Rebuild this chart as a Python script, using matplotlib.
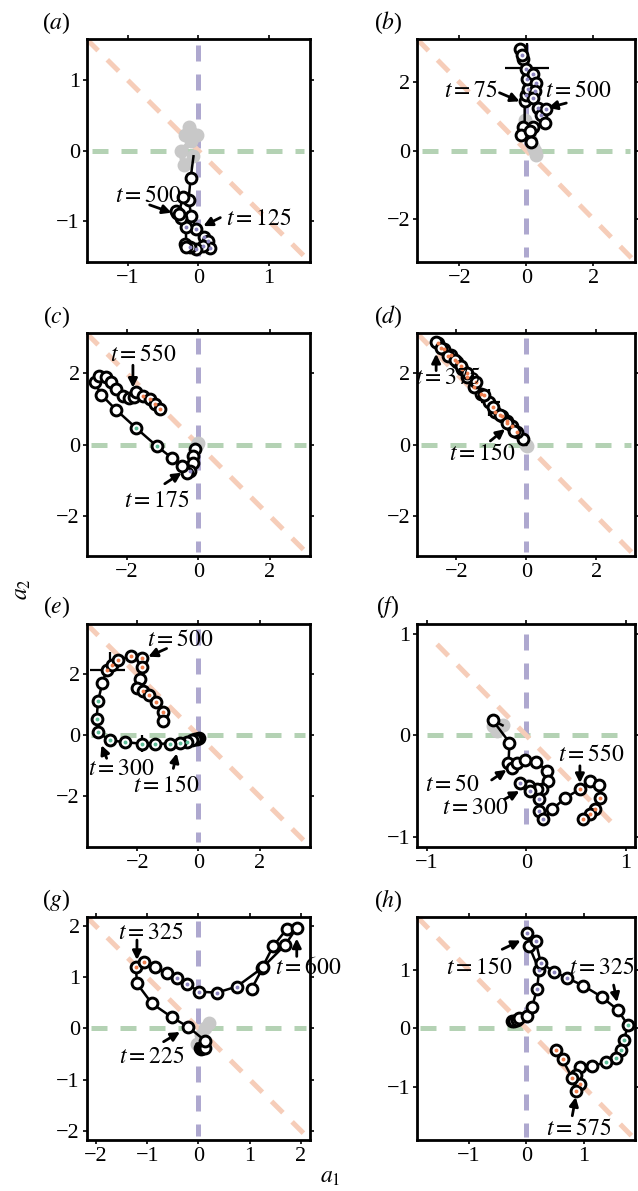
import matplotlib
matplotlib.use('Agg')
import matplotlib.pyplot as plt
import numpy as np

plt.rcParams['font.family'] = ['Liberation Serif', 'DejaVu Serif']
plt.rcParams['mathtext.fontset'] = 'stix'

# ---- data (a1, a2 coordinates) ----
# dot codes: n = none, o = orange, g = green, p = purple
grey_a_x = [-0.12, -0.14, -0.19, -0.02, -0.10, -0.24, -0.21, -0.07]
grey_a_y = [0.28, 0.34, 0.22, 0.22, 0.13, -0.01, -0.20, -0.08]
traj_a_x = [-0.11, -0.14, -0.10, -0.03, 0.08, 0.14, 0.17, 0.07, -0.04, -0.12, -0.19, -0.17, -0.18, -0.25, -0.30, -0.32, -0.28, -0.22]
traj_a_y = [-0.39, -0.70, -0.92, -1.11, -1.22, -1.28, -1.38, -1.35, -1.40, -1.36, -1.33, -1.36, -1.08, -0.95, -0.88, -0.85, -0.90, -0.66]
dots_a = 'nnnpppppppnnpnnnnn'

grey_b_x = [0.30, 0.25, 0.20, 0.10, 0.02, -0.05]
grey_b_y = [-0.13, 0.00, 0.12, 0.35, 0.60, 0.90]
traj_b_x = [-0.05, 0.00, 0.05, 0.02, -0.10, -0.20, -0.12, 0.00, 0.20, 0.30, 0.25, 0.20, 0.35, 0.45, 0.60, 0.55, 0.20, -0.10, -0.15, 0.10, 0.15]
traj_b_y = [1.44, 1.62, 1.80, 2.10, 2.67, 2.96, 2.80, 2.37, 2.23, 1.98, 1.75, 1.54, 1.25, 1.05, 1.22, 0.80, 0.70, 0.70, 0.46, 0.56, 0.26]
dots_b = 'npppnnpppppppppnnnnnn'

grey_c_x = [0.00, -0.05]
grey_c_y = [0.05, 0.00]
traj_c_x = [-0.10, -0.14, -0.16, -0.23, -0.33, -0.47, -0.75, -1.17, -1.74, -2.30, -2.72, -2.90, -2.77, -2.58, -2.44, -2.30, -2.11, -1.95, -1.80, -1.74, -1.55, -1.36, -1.22, -1.08]
traj_c_y = [-0.12, -0.31, -0.50, -0.73, -0.78, -0.59, -0.36, -0.03, 0.47, 0.98, 1.41, 1.76, 1.94, 1.90, 1.76, 1.57, 1.38, 1.30, 1.35, 1.47, 1.38, 1.29, 1.15, 1.00]
dots_c = 'nnnpnnnggnnnnnnnnnnnoooo'

grey_d_x = [0.02, 0.00]
grey_d_y = [-0.02, 0.00]
traj_d_x = [-0.09, -0.28, -0.42, -0.56, -0.70, -0.89, -1.08, -1.31, -1.50, -1.69, -1.83, -1.97, -2.16, -2.35, -2.54, -2.58, -2.45, -2.25, -2.05, -1.88, -1.70, -1.45, -1.20, -0.95, -0.75, -0.55, -0.35]
traj_d_y = [0.16, 0.35, 0.54, 0.68, 0.82, 0.91, 1.19, 1.43, 1.62, 1.90, 2.13, 2.32, 2.51, 2.69, 2.84, 2.88, 2.70, 2.50, 2.38, 2.20, 2.00, 1.75, 1.40, 1.05, 0.85, 0.60, 0.40]
dots_d = 'nooooonoooooooonoooooooooon'

grey_e_x = []
grey_e_y = []
traj_e_x = [0.02, -0.05, -0.12, -0.22, -0.38, -0.60, -0.93, -1.42, -1.86, -2.40, -2.90, -3.28, -3.33, -3.28, -3.14, -3.00, -2.84, -2.62, -2.19, -1.86, -1.83, -1.91, -2.00, -1.80, -1.61, -1.39, -1.15, -1.15]
traj_e_y = [-0.08, -0.11, -0.13, -0.16, -0.22, -0.25, -0.27, -0.27, -0.27, -0.22, -0.16, 0.11, 0.54, 1.13, 1.72, 2.15, 2.31, 2.47, 2.61, 2.53, 2.24, 1.85, 1.56, 1.45, 1.31, 1.10, 0.77, 0.48]
dots_e = 'nnnnggggggggggnoooooonnoooon'

grey_f_x = [-0.34, -0.30, -0.24]
grey_f_y = [0.09, 0.04, 0.10]
traj_f_x = [-0.34, -0.17, -0.18, -0.14, -0.09, -0.01, 0.10, 0.21, 0.22, 0.16, 0.11, 0.03, -0.06, 0.04, 0.13, 0.13, 0.17, 0.26, 0.39, 0.54, 0.64, 0.73, 0.74, 0.69, 0.64, 0.57]
traj_f_y = [0.15, -0.07, -0.27, -0.32, -0.27, -0.24, -0.26, -0.35, -0.45, -0.53, -0.53, -0.50, -0.47, -0.55, -0.63, -0.75, -0.83, -0.73, -0.62, -0.53, -0.45, -0.49, -0.62, -0.73, -0.78, -0.83]
dots_f = 'nnnnnnnnnnnnpppppnnonnoooo'

grey_g_x = [0.20, 0.12, 0.05, -0.03]
grey_g_y = [0.10, 0.00, -0.12, -0.30]
traj_g_x = [0.03, 0.06, 0.09, 0.13, 0.13, -0.20, -0.52, -0.91, -1.20, -1.22, -1.07, -0.85, -0.62, -0.42, -0.23, 0.02, 0.36, 0.75, 1.24, 1.46, 1.72, 1.92, 1.69, 1.27, 1.04]
traj_g_y = [-0.39, -0.40, -0.38, -0.39, -0.24, 0.03, 0.22, 0.49, 0.88, 1.20, 1.31, 1.20, 1.08, 0.98, 0.87, 0.72, 0.70, 0.82, 1.18, 1.61, 1.94, 1.97, 1.63, 1.21, 0.78]
dots_g = 'nnnnnnnnnoonnpppppnnnnnnn'

grey_h_x = []
grey_h_y = []
traj_h_x = [-0.25, -0.21, -0.17, -0.13, 0.02, 0.10, 0.19, 0.22, 0.05, 0.02, 0.16, 0.25, 0.48, 0.71, 0.99, 1.31, 1.60, 1.77, 1.70, 1.64, 1.57, 1.38, 1.15, 0.94, 0.86, 0.94, 0.86, 0.80, 0.63, 0.52]
traj_h_y = [0.12, 0.13, 0.15, 0.17, 0.22, 0.37, 0.68, 1.00, 1.40, 1.62, 1.50, 1.12, 0.97, 0.86, 0.73, 0.54, 0.31, 0.05, -0.19, -0.36, -0.50, -0.58, -0.64, -0.65, -0.79, -0.95, -1.07, -0.85, -0.53, -0.36]
dots_h = 'nnnnnnppnpppppnnngggggnnnooooo'

# ---- styling ----
dot_col = {'o': '#f07f4f', 'g': '#5fbf9a', 'p': '#8d86c0'}
c_green = '#b4d2b4'
c_purple = '#aea8cf'
c_peach = '#f6cdb9'

fig = plt.figure(figsize=(6.38, 11.91), dpi=100)

lefts = [0.136, 0.654]
widths = [0.350, 0.342]
bottoms = [0.780, 0.533, 0.289, 0.043]
height = 0.187


def tlabel(n):
    return r'$t{=}' + str(n) + r'$'


def panel(idx, label, lim, ticks, rng, drng, gx, gy, tx, ty, dots, crosses, notes):
    r, c = divmod(idx, 2)
    ax = fig.add_axes([lefts[c], bottoms[r], widths[c], height])
    ax.set_xlim(-lim, lim)
    ax.set_ylim(-lim, lim)
    ax.set_xticks(ticks)
    ax.set_yticks(ticks)
    ax.tick_params(direction='out', length=3, width=1.2, labelsize=16,
                   top=True, right=True, pad=2)
    for s in ax.spines.values():
        s.set_linewidth(2.0)
    ls = (0, (3.2, 2.6))
    ax.plot([-rng, rng], [0, 0], color=c_green, lw=3.6, ls=ls, zorder=1)
    ax.plot([0, 0], [rng, -rng], color=c_purple, lw=3.6, ls=ls, zorder=1)
    ax.plot([-drng, drng], [drng, -drng], color=c_peach, lw=3.6, ls=ls, zorder=1)

    if len(gx):
        ax.plot(gx, gy, '-', color='#c8c8c8', lw=4.5, marker='o', ms=9,
                mfc='#c8c8c8', mec='#c8c8c8', zorder=2)
        lx = np.r_[gx[-1:], tx]
        ly = np.r_[gy[-1:], ty]
    else:
        lx, ly = np.asarray(tx), np.asarray(ty)
    ax.plot(lx, ly, 'k-', lw=1.8, zorder=3)
    for (cx, cy, xe, ye) in crosses:
        ax.errorbar([cx], [cy], xerr=xe, yerr=ye, fmt='none', ecolor='k',
                    elinewidth=1.6, capsize=0, zorder=3)
    ax.plot(tx, ty, 'o', ms=7.8, mfc='white', mec='k', mew=2.1, zorder=4)
    for k, code in enumerate(dots):
        if code in dot_col:
            ax.plot(tx[k], ty[k], 'o', ms=2.8, color=dot_col[code], mec='none', zorder=5)

    for (n, nx, ny, sx, sy, ex, ey) in notes:
        ax.text(nx, ny, tlabel(n), fontsize=17, ha='center', va='center', zorder=6,
                clip_on=False)
        ax.annotate('', xy=(ex, ey), xytext=(sx, sy),
                    arrowprops=dict(arrowstyle='-|>', color='k', lw=2.0,
                                    mutation_scale=13, shrinkA=0, shrinkB=0),
                    zorder=6)

    ax.text(-0.135, 1.075, '(' + r'$' + label + r'$' + ')', transform=ax.transAxes,
            fontsize=17, ha='center', va='center')
    return ax


panel(0, 'a', 1.58, [-1, 0, 1], 1.5, 1.58, grey_a_x, grey_a_y, traj_a_x, traj_a_y, dots_a, [],
      [(500, -0.71, -0.65, -0.69, -0.77, -0.38, -0.88),
       (125, 0.86, -0.98, 0.31, -0.95, 0.07, -1.07)])
panel(1, 'b', 3.25, [-2, 0, 2], 3.1, 3.25, grey_b_x, grey_b_y, traj_b_x, traj_b_y, dots_b,
      [(0.02, 2.4, 0.65, [[0.5], [0.75]])],
      [(75, -1.64, 1.74, -0.80, 1.69, -0.20, 1.44),
       (500, 1.54, 1.74, 1.19, 1.39, 0.65, 1.25)])
panel(2, 'c', 3.12, [-2, 0, 2], 3.0, 3.12, grey_c_x, grey_c_y, traj_c_x, traj_c_y, dots_c,
      [(-1.74, 0.47, 0.1, 0.12)],
      [(550, -1.55, 2.51, -1.83, 2.23, -1.83, 1.60),
       (175, -1.17, -1.58, -0.94, -1.09, -0.47, -0.78)])
panel(3, 'd', 3.12, [-2, 0, 2], 3.0, 3.12, grey_d_x, grey_d_y, traj_d_x, traj_d_y, dots_d,
      [(-1.08, 1.2, [[0.23], [0.33]], [[0.38], [0.37]])],
      [(375, -2.25, 1.85, -2.58, 2.08, -2.58, 2.55),
       (150, -1.27, -0.26, -1.03, 0.11, -0.61, 0.44)])
panel(4, 'e', 3.65, [-2, 0, 2], 3.5, 3.65, grey_e_x, grey_e_y, traj_e_x, traj_e_y, dots_e,
      [(-2.9, 2.15, [[0.65], [0.5]], [[0.16], [0.59]]), (-1.86, -0.27, 0, 0.27)],
      [(500, -0.60, 3.12, -1.04, 2.85, -1.64, 2.58),
       (300, -2.51, -1.13, -3.00, -0.75, -3.17, -0.32),
       (150, -1.04, -1.67, -0.82, -1.08, -0.71, -0.59)])
panel(5, 'f', 1.1, [-1, 0, 1], 1.0, 0.9, grey_f_x, grey_f_y, traj_f_x, traj_f_y, dots_f, [],
      [(550, 0.65, -0.20, 0.54, -0.30, 0.54, -0.47),
       (50, -0.75, -0.49, -0.35, -0.44, -0.20, -0.34),
       (300, -0.52, -0.72, -0.22, -0.63, -0.07, -0.55)])
panel(6, 'g', 2.18, [-2, -1, 0, 1, 2], 2.1, 2.18, grey_g_x, grey_g_y, traj_g_x, traj_g_y, dots_g, [],
      [(325, -0.94, 1.86, -1.20, 1.73, -1.20, 1.34),
       (600, 2.15, 1.18, 1.92, 1.41, 1.92, 1.76),
       (225, -0.91, -0.56, -0.68, -0.26, -0.36, -0.07)])
panel(7, 'h', 1.9, [-1, 0, 1], 1.85, 1.9, grey_h_x, grey_h_y, traj_h_x, traj_h_y, dots_h, [],
      [(150, -0.82, 1.03, -0.42, 1.35, -0.10, 1.50),
       (325, 1.32, 1.03, 1.52, 0.74, 1.58, 0.45),
       (575, 0.92, -1.72, 0.80, -1.49, 0.86, -1.17)])

fig.text(0.035, 0.505, '$a_2$', fontsize=17, rotation=90, ha='center', va='center')
fig.text(0.517, 0.011, '$a_1$', fontsize=17, ha='center', va='center')

fig.savefig('out.png', dpi=100)
